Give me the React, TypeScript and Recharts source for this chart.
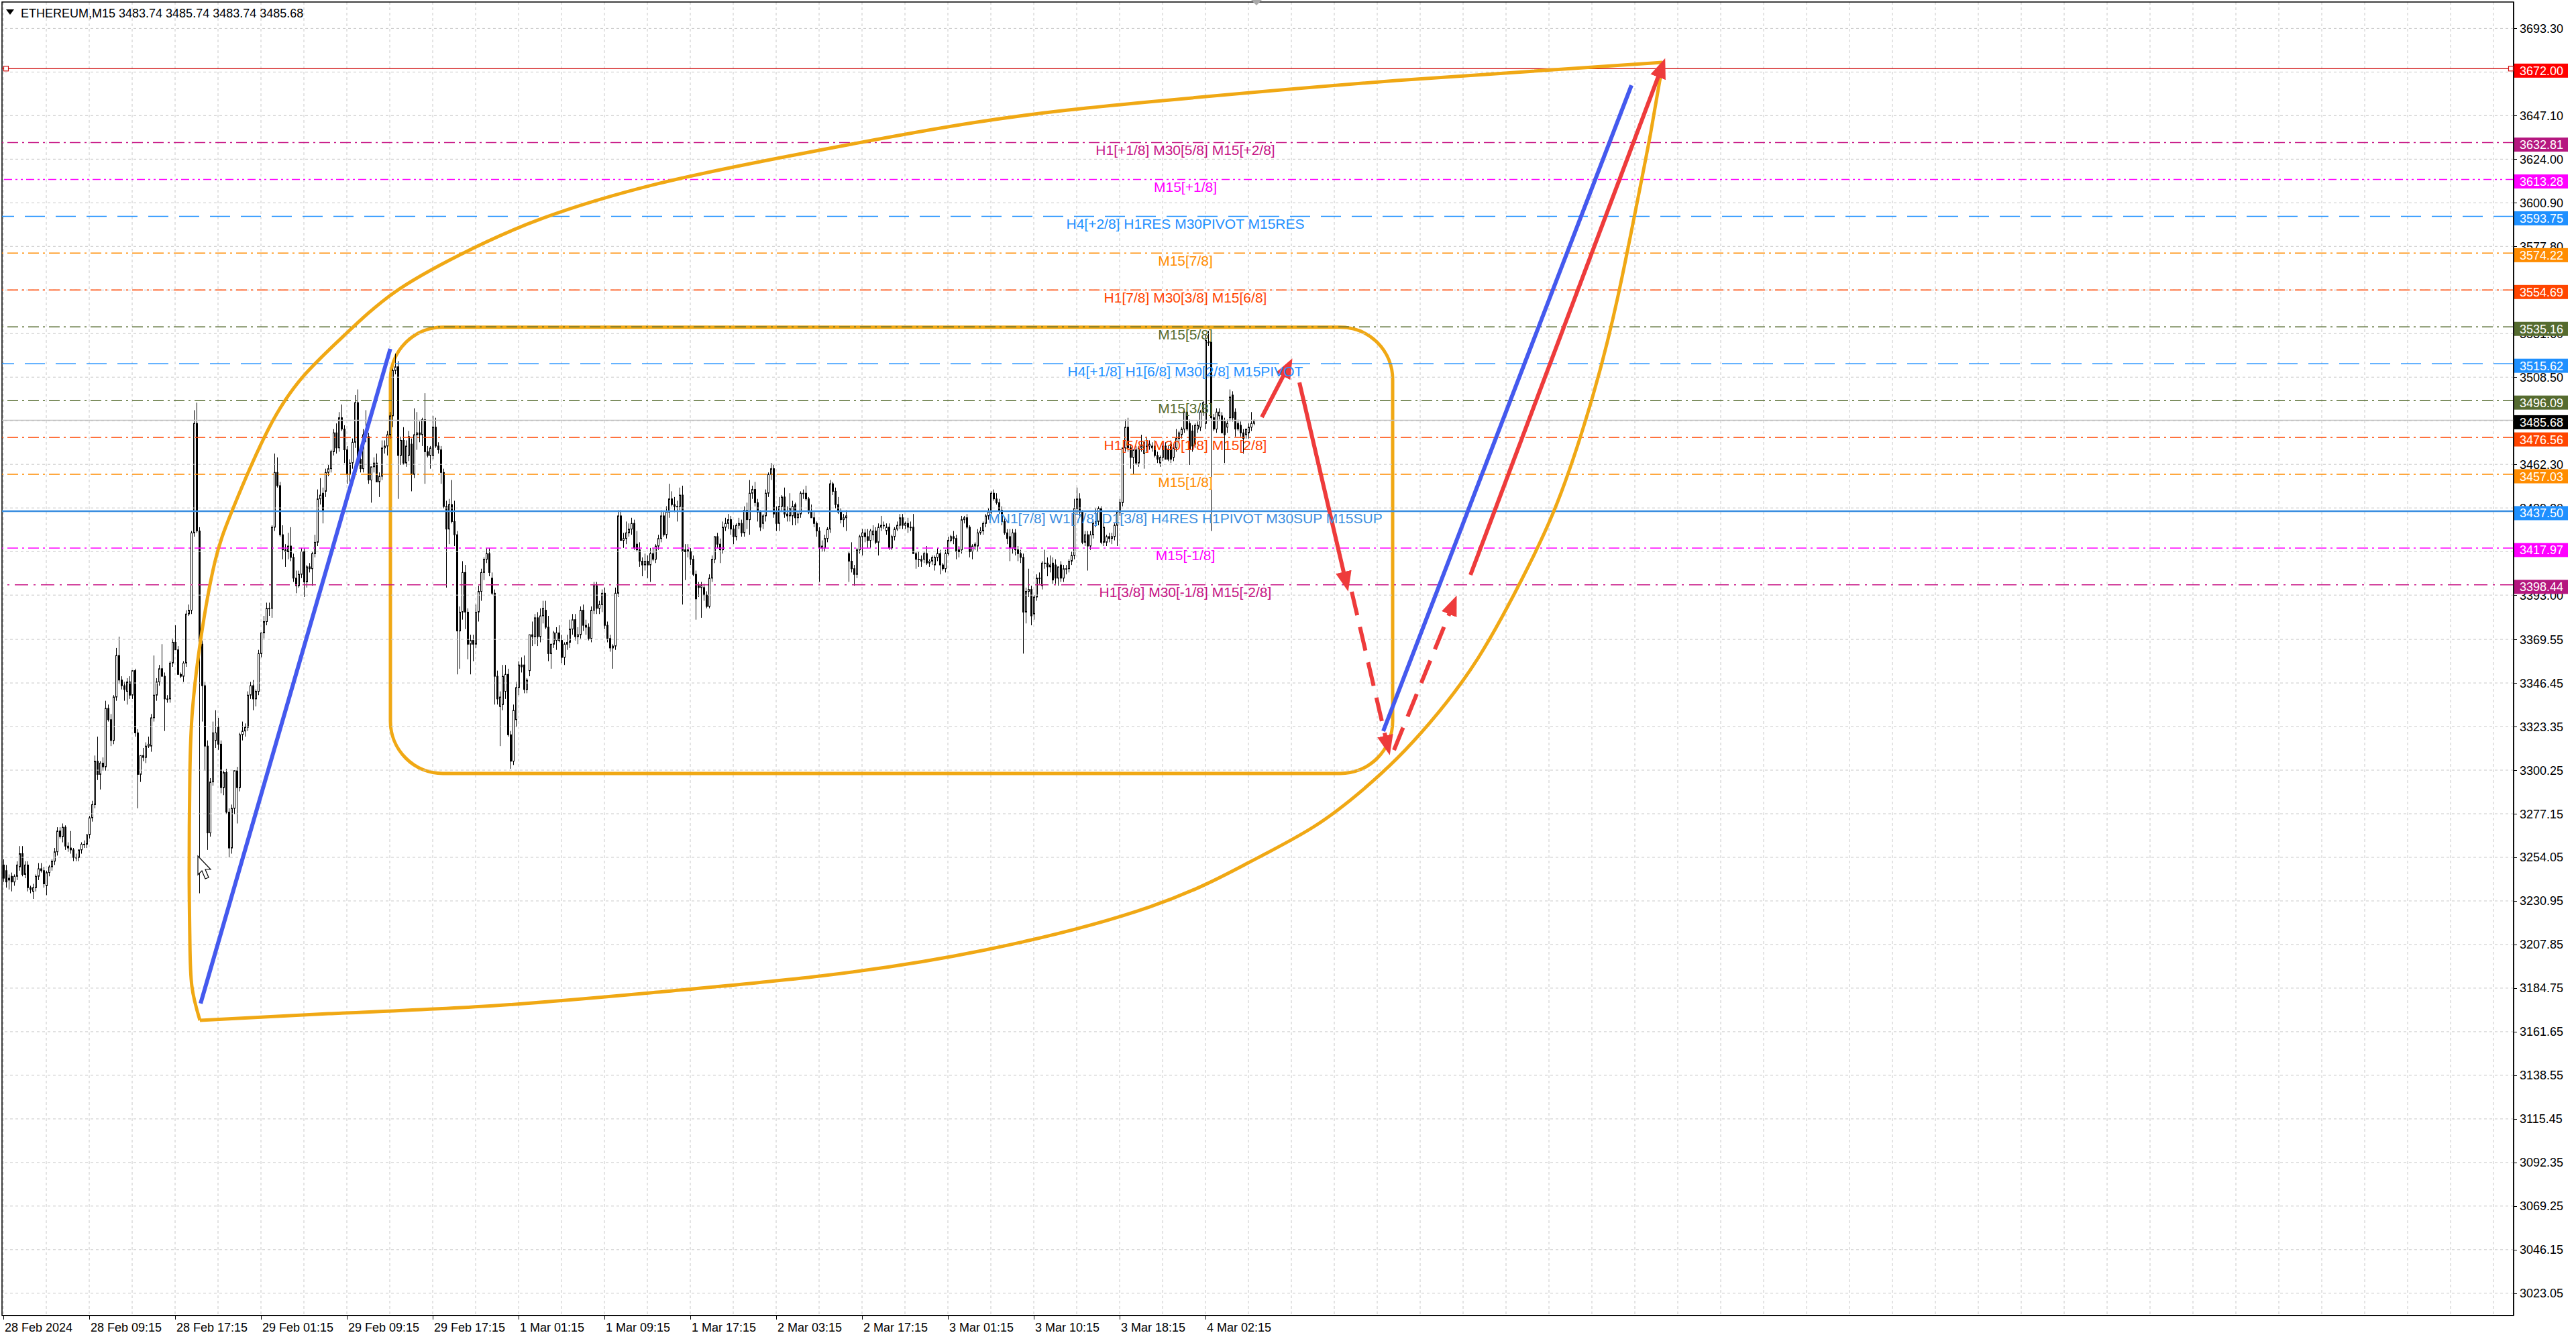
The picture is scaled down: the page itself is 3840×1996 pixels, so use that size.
import React from 'react';
import {
  ComposedChart, Bar, Line, Scatter, XAxis, YAxis, CartesianGrid,
  ReferenceLine, ReferenceArea,
} from 'recharts';

const FONT = '"Liberation Sans", Arial, sans-serif';

// ---------------- OHLC data (M15 bars, index 0..466) ----------------
const OPEN = [
  3250,3247,3243,3244,3241,3244,3249,3256,3245,3250,
  3238,3236,3238,3244,3248,3247,3239,3246,3249,3252,
  3257,3268,3265,3270,3260,3259,3258,3254,3254,3258,
  3261,3261,3266,3275,3282,3305,3298,3304,3302,3333,
  3327,3316,3339,3361,3348,3345,3342,3347,3340,3353,
  3320,3298,3308,3307,3313,3313,3328,3340,3347,3354,
  3350,3338,3338,3357,3368,3364,3351,3350,3357,3383,
  3385,3426,3484,3427,3367,3345,3313,3267,3294,3316,
  3323,3314,3291,3299,3278,3259,3280,3300,3291,3319,
  3321,3323,3340,3345,3338,3342,3362,3373,3379,3386,
  3386,3429,3458,3451,3425,3417,3416,3419,3413,3402,
  3398,3404,3416,3400,3408,3407,3415,3421,3444,
  3447,3448,3458,3460,3469,3479,3471,3487,3481,3470,
  3457,3463,3474,3495,3465,3460,3478,3477,3454,3461,
  3463,3453,3456,3471,3472,3478,3488,3512,3514,3467,
  3475,3463,3467,3473,3457,3478,3479,3478,3486,3469,
  3467,3467,3482,3472,3470,3458,3440,3428,3441,3432,
  3425,3374,3384,3405,3384,3367,3369,3367,3384,3395,
  3405,3412,3415,3402,3394,3350,3334,3335,3342,3351,
  3319,3305,3327,3344,3356,3356,3343,3353,3372,3371,
  3381,3371,3382,3385,3376,3362,3367,3369,3373,3369,
  3360,3367,3368,3375,3380,3371,3372,3385,3377,3376,
  3370,3385,3398,3386,3388,3394,3377,3370,3365,3366,
  3394,3435,3422,3423,3426,3428,3431,
  3420,3417,3411,3409,3411,3409,3415,3412,3419,3423,
  3435,3425,3437,3444,3441,3440,3440,3446,3416,3417,
  3416,3412,3404,3398,3397,3397,3393,3387,3402,3412,
  3424,3420,3417,3429,3431,3433,3428,3424,3430,3431,
  3426,3438,3433,3447,3449,3442,3437,3431,3435,3447,
  3457,3460,3437,3431,3440,3445,3436,3435,3435,3441,
  3434,3436,3447,3447,3444,3437,3434,3431,3427,3418,
  3418,3423,3428,3452,3448,3441,3437,3433,3434,3415,
  3411,3407,3404,3417,3424,3426,3424,3422,3425,3427,
  3421,3429,3430,3427,3429,3418,3424,3428,3430,3434,
  3430,3431,3429,3429,3415,3412,3411,3412,3415,3410,
  3411,3409,3413,3415,3409,3407,3415,3422,
  3424,3423,3416,3417,3433,3434,3429,3416,3419,3419,
  3426,3427,3431,3435,3437,3447,3444,3442,3438,3432,
  3426,3424,3418,3426,3417,3415,3413,3384,3395,3396,
  3383,3392,3402,3398,3410,3410,3408,3410,3409,3402,
  3409,3402,3407,3407,3411,3414,3439,3444,3437,3421,
  3425,3419,3425,3431,3432,3439,3421,3421,3424,3423,
  3424,3430,3437,3442,3471,3482,3471,3466,3470,3463,
  3471,3468,3472,3472,3471,3472,3467,3463,3466,3472,
  3470,3473,3466,3471,3476,3478,3481,3490,3484,3480,
  3473,3481,3482,3490,3484,3527,3527,3487,3481,3488,
  3488,3485,3482,3487,3499,3490,3484,3483,3479,3478,
  3479,3482,3484,
];
const HIGH = [
  3253,3250,3245,3246,3245,3252,3260,3260,3252,3252,
  3239,3240,3245,3251,3251,3249,3247,3250,3253,3259,
  3270,3270,3272,3271,3262,3268,3259,3256,3258,3262,
  3263,3266,3276,3284,3308,3318,3305,3307,3337,3335,
  3330,3340,3365,3371,3350,3347,3349,3350,3353,3354,
  3322,3308,3312,3315,3318,3330,3361,3349,3356,3367,
  3352,3340,3358,3370,3377,3366,3352,3358,3385,3388,
  3427,3491,3495,3429,3369,3347,3316,3296,3326,3332,
  3328,3316,3300,3301,3280,3282,3300,3302,3320,3326,
  3325,3342,3347,3348,3343,3364,3373,3382,3389,3389,
  3430,3468,3466,3453,3430,3420,3426,3429,3415,3406,
  3406,3418,3418,3409,3410,3416,3425,3449,3455,
  3450,3460,3462,3470,3481,3484,3490,3494,3483,3472,
  3465,3476,3499,3502,3468,3481,3491,3479,3461,3466,
  3468,3458,3475,3475,3480,3490,3513,3521,3517,3477,
  3482,3475,3480,3476,3492,3490,3485,3487,3500,3472,
  3472,3488,3487,3474,3472,3460,3443,3444,3454,3443,
  3427,3387,3411,3409,3386,3372,3372,3388,3398,3407,
  3413,3418,3418,3405,3396,3353,3342,3356,3356,3354,
  3321,3335,3347,3358,3360,3361,3349,3372,3379,3383,
  3384,3386,3390,3390,3382,3367,3374,3376,3377,3372,
  3368,3372,3380,3383,3383,3376,3387,3388,3380,3378,
  3387,3400,3400,3390,3396,3397,3379,3372,3367,3397,
  3438,3438,3426,3432,3431,3434,3433,
  3427,3421,3413,3415,3414,3418,3418,3420,3425,3438,
  3437,3440,3452,3448,3445,3443,3450,3451,3420,3420,
  3418,3414,3406,3400,3400,3399,3395,3404,3414,3424,
  3426,3423,3432,3434,3436,3435,3430,3431,3434,3433,
  3440,3442,3454,3451,3453,3444,3438,3436,3449,3458,
  3463,3462,3440,3445,3446,3450,3440,3447,3443,3442,
  3437,3448,3449,3451,3445,3441,3437,3432,3429,3422,
  3425,3429,3454,3453,3450,3445,3439,3436,3438,3416,
  3421,3409,3418,3425,3428,3428,3428,3428,3430,3429,
  3431,3435,3432,3431,3431,3425,3429,3432,3436,3436,
  3432,3434,3432,3436,3416,3416,3414,3416,3419,3412,
  3414,3414,3418,3417,3410,3417,3424,3425,
  3427,3425,3419,3435,3435,3436,3430,3420,3421,3428,
  3429,3432,3436,3439,3448,3449,3447,3444,3440,3434,
  3428,3428,3428,3428,3419,3417,3415,3397,3407,3398,
  3393,3404,3405,3411,3417,3413,3414,3413,3412,3408,
  3411,3409,3409,3412,3416,3444,3450,3447,3438,3427,
  3427,3427,3432,3439,3440,3440,3432,3425,3426,3426,
  3431,3438,3444,3471,3486,3487,3473,3470,3472,3472,
  3478,3475,3477,3475,3474,3475,3469,3467,3474,3474,
  3472,3475,3473,3481,3480,3482,3491,3491,3486,3483,
  3484,3485,3491,3496,3531,3533,3529,3489,3492,3492,
  3490,3487,3486,3502,3501,3492,3486,3485,3481,3481,
  3484,3490,3486,
];
const LOW = [
  3241,3238,3237,3236,3239,3242,3247,3244,3243,3236,
  3235,3232,3236,3242,3246,3238,3234,3244,3247,3250,
  3255,3264,3262,3258,3257,3256,3252,3252,3252,3256,
  3259,3259,3264,3273,3280,3295,3290,3300,3300,3326,
  3313,3314,3337,3346,3343,3337,3335,3338,3338,3318,
  3280,3294,3305,3304,3312,3310,3326,3337,3345,3350,
  3321,3336,3336,3355,3364,3351,3349,3347,3355,3382,
  3383,3424,3426,3235,3326,3300,3258,3265,3292,3312,
  3311,3288,3287,3277,3254,3256,3277,3272,3289,3316,
  3318,3321,3338,3332,3334,3340,3360,3370,3377,3382,
  3381,3427,3450,3424,3412,3408,3412,3411,3400,3394,
  3397,3402,3392,3397,3405,3398,3413,3419,3441,
  3431,3445,3456,3458,3467,3468,3469,3480,3463,3452,
  3452,3460,3471,3464,3458,3458,3474,3452,3442,3458,
  3453,3445,3454,3468,3467,3476,3482,3510,3444,3462,
  3462,3461,3464,3448,3455,3470,3474,3472,3452,3466,
  3460,3465,3471,3468,3452,3439,3397,3420,3431,3419,
  3351,3354,3380,3375,3359,3351,3358,3365,3379,3390,
  3401,3410,3403,3393,3335,3335,3313,3332,3338,3318,
  3301,3303,3323,3340,3352,3341,3341,3350,3366,3367,
  3366,3368,3378,3375,3358,3354,3365,3364,3368,3357,
  3356,3364,3365,3372,3369,3367,3370,3374,3372,3369,
  3368,3383,3383,3383,3384,3375,3368,3363,3354,3364,
  3392,3422,3418,3420,3424,3425,3417,
  3416,3408,3403,3406,3402,3400,3411,3410,3417,3421,
  3424,3423,3434,3440,3437,3432,3438,3388,3401,3413,
  3409,3403,3380,3392,3381,3390,3386,3386,3400,3410,
  3418,3410,3415,3427,3428,3425,3420,3422,3428,3424,
  3424,3428,3425,3444,3440,3432,3427,3428,3432,3445,
  3454,3434,3427,3427,3437,3434,3432,3432,3430,3430,
  3431,3434,3444,3443,3436,3434,3429,3424,3400,3416,
  3416,3421,3426,3446,3439,3436,3431,3429,3427,3400,
  3405,3398,3402,3415,3414,3421,3418,3418,3422,3420,
  3414,3427,3428,3425,3417,3417,3422,3427,3428,3428,
  3428,3426,3427,3415,3407,3408,3408,3410,3409,3408,
  3409,3406,3411,3404,3406,3405,3414,3421,
  3420,3412,3413,3415,3431,3428,3413,3412,3417,3416,
  3425,3425,3429,3433,3436,3443,3441,3436,3430,3425,
  3420,3411,3415,3414,3411,3410,3362,3378,3392,3377,
  3380,3390,3399,3396,3407,3403,3405,3399,3399,3398,
  3400,3400,3404,3405,3409,3412,3436,3434,3420,3419,
  3406,3417,3423,3429,3430,3420,3419,3419,3421,3420,
  3422,3419,3435,3440,3469,3469,3460,3457,3462,3461,
  3469,3460,3469,3470,3469,3466,3463,3461,3464,3465,
  3464,3463,3464,3469,3474,3476,3479,3480,3462,3469,
  3471,3479,3480,3488,3481,3525,3427,3480,3479,3486,
  3479,3463,3479,3485,3485,3477,3480,3477,3468,3476,
  3476,3480,3483,
];
const CLOSE = [
  3243,3241,3242,3241,3244,3250,3256,3245,3250,3238,
  3237,3238,3244,3248,3247,3240,3246,3249,3252,3257,
  3268,3265,3270,3260,3259,3258,3254,3254,3258,3261,
  3261,3266,3275,3282,3305,3298,3304,3302,3333,3327,
  3316,3339,3361,3348,3345,3343,3347,3340,3353,3320,
  3298,3308,3307,3313,3314,3328,3340,3347,3354,3350,
  3338,3338,3357,3368,3364,3351,3350,3357,3383,3385,
  3426,3484,3427,3367,3345,3313,3267,3294,3320,3320,
  3314,3291,3299,3278,3259,3280,3300,3291,3319,3321,
  3323,3340,3345,3338,3342,3362,3373,3379,3386,3386,
  3429,3458,3451,3425,3417,3416,3419,3413,3402,3398,
  3404,3416,3400,3408,3407,3415,3421,3444,3446,
  3438,3458,3460,3469,3479,3471,3487,3481,3470,3457,
  3463,3474,3495,3465,3460,3478,3477,3454,3461,3463,
  3453,3456,3471,3472,3478,3488,3512,3514,3467,3475,
  3463,3472,3477,3457,3478,3479,3478,3486,3469,3467,
  3471,3482,3472,3470,3458,3440,3428,3441,3432,3425,
  3374,3384,3405,3384,3367,3369,3367,3384,3395,3405,
  3412,3415,3405,3394,3350,3338,3339,3350,3351,3319,
  3305,3332,3344,3356,3355,3343,3348,3372,3371,3381,
  3371,3382,3386,3376,3362,3367,3373,3373,3369,3360,
  3367,3368,3375,3380,3371,3372,3385,3377,3376,3370,
  3385,3398,3386,3388,3394,3377,3370,3365,3366,3394,
  3435,3422,3423,3426,3428,3431,3418,
  3417,3411,3409,3411,3409,3415,3412,3419,3423,3435,
  3425,3437,3444,3441,3440,3440,3446,3416,3417,3416,
  3412,3404,3391,3397,3398,3393,3387,3402,3412,3424,
  3420,3417,3429,3431,3433,3428,3424,3430,3431,3426,
  3438,3433,3447,3449,3442,3437,3429,3435,3447,3457,
  3460,3436,3431,3440,3445,3436,3435,3439,3440,3434,
  3436,3447,3447,3444,3437,3434,3431,3427,3418,3419,
  3423,3428,3452,3448,3441,3437,3433,3434,3435,3411,
  3407,3404,3417,3424,3426,3424,3422,3427,3427,3421,
  3429,3430,3430,3429,3418,3424,3428,3430,3434,3430,
  3431,3429,3429,3415,3412,3412,3412,3415,3410,3411,
  3413,3413,3415,3409,3407,3415,3422,3424,
  3423,3416,3417,3433,3434,3429,3416,3419,3420,3426,
  3427,3431,3435,3437,3447,3444,3442,3438,3432,3426,
  3423,3418,3426,3417,3415,3413,3384,3395,3396,3382,
  3392,3402,3402,3410,3410,3408,3409,3401,3402,3408,
  3402,3407,3407,3411,3414,3439,3444,3437,3421,3425,
  3419,3425,3431,3432,3439,3421,3429,3424,3423,3424,
  3430,3437,3442,3471,3482,3471,3466,3470,3463,3471,
  3472,3474,3472,3473,3472,3467,3465,3466,3472,3465,
  3465,3465,3471,3476,3479,3481,3490,3481,3470,3472,
  3483,3483,3490,3495,3528,3527,3487,3481,3490,3490,
  3479,3478,3484,3498,3487,3481,3481,3479,3476,3481,
  3482,3484,3485.68,
];

// ---------------- axes ----------------
const TIME_LABEL_BARS = [0, 32, 64, 96, 128, 160, 192, 224, 256, 288, 320, 352, 384, 416, 448];
const TIME_LABELS = [
  '28 Feb 2024', '28 Feb 09:15', '28 Feb 17:15', '29 Feb 01:15', '29 Feb 09:15',
  '29 Feb 17:15', '1 Mar 01:15', '1 Mar 09:15', '1 Mar 17:15', '2 Mar 03:15',
  '2 Mar 17:15', '3 Mar 01:15', '3 Mar 10:15', '3 Mar 18:15', '4 Mar 02:15',
];
const PRICE_TICKS = [
  3693.3, 3670.2, 3647.1, 3624.0, 3600.9, 3577.8, 3554.7, 3531.6, 3508.5, 3485.4,
  3462.3, 3439.2, 3416.1, 3393.0, 3369.55, 3346.45, 3323.35, 3300.25, 3277.15, 3254.05,
  3230.95, 3207.85, 3184.75, 3161.65, 3138.55, 3115.45, 3092.35, 3069.25, 3046.15, 3023.05,
];
// tick labels that sit fully under a price box in the reference
const HIDDEN_TICK_LABELS = [3670.2, 3554.7, 3485.4, 3416.1];

// ---------------- Murrey levels ----------------
const LEVEL_PRICES = [3632.81, 3613.28, 3593.75, 3574.22, 3554.69, 3535.16, 3515.62, 3496.09, 3476.56, 3457.03, 3437.50, 3417.97, 3398.44];
const LEVEL_TEXTS = [
  'H1[+1/8] M30[5/8] M15[+2/8]',
  'M15[+1/8]',
  'H4[+2/8] H1RES M30PIVOT M15RES',
  'M15[7/8]',
  'H1[7/8] M30[3/8] M15[6/8]',
  'M15[5/8]',
  'H4[+1/8] H1[6/8] M30[2/8] M15PIVOT',
  'M15[3/8]',
  'H1[5/8] M30[1/8] M15[2/8]',
  'M15[1/8]',
  'MN1[7/8] W1[7/8] D1[3/8] H4RES H1PIVOT M30SUP M15SUP',
  'M15[-1/8]',
  'H1[3/8] M30[-1/8] M15[-2/8]',
];
const LEVEL_COLORS = ['#C71585', '#FF00FF', '#1E90FF', '#FF8C00', '#FF4500', '#556B2F', '#1E90FF', '#556B2F', '#FF4500', '#FF8C00', '#3A8EE0', '#FF00FF', '#C71585'];
const LEVEL_DASH = ['16 6 3 6', '12 5 3 5 3 5', '30 16', '16 6 3 6', '16 6 3 6', '16 6 3 6', '30 16', '16 6 3 6', '16 6 3 6', '16 6 3 6', '', '16 6 3 6', '20 8 3 8'];
const LEVEL_LABEL_BAR = 440.5;

const BOX_PRICES = [3672.00, 3632.81, 3613.28, 3593.75, 3574.22, 3554.69, 3535.16, 3515.62, 3496.09, 3485.68, 3476.56, 3457.03, 3437.50, 3417.97, 3398.44];
const BOX_COLORS = ['#FF0000', '#B5177F', '#FF00FF', '#1E90FF', '#FF8C00', '#FF4500', '#556B2F', '#1E90FF', '#556B2F', '#000000', '#FF4500', '#FF8C00', '#1E90FF', '#FF00FF', '#B5177F'];

const TARGET_PRICE = 3672.0;
const BID_PRICE = 3485.68;

// ---------------- drawings (bar index, price) ----------------
const UPPER_ARC_X = [73.25, 70.25, 69.5, 69.25, 69.5, 70.5, 73.75, 78.75, 85.5, 98.75, 112, 127, 145.7, 170.2, 200.8, 243.6, 292.6, 361.25, 427.3, 519.2, 618.25];
const UPPER_ARC_Y = [3167.7, 3185.8, 3210.7, 3246.2, 3297.1, 3332.6, 3371.4, 3410.1, 3438.6, 3480.9, 3509.3, 3530.6, 3553.4, 3573.4, 3592.6, 3610.9, 3625.6, 3643.3, 3654.4, 3665.7, 3675.3];
const LOWER_ARC_X = [73.25, 121.25, 182.5, 243.75, 304.75, 366, 427.25, 464, 488.5, 507, 519.25, 531.5, 549.75, 568.25, 580.5, 592.5, 601.75, 609.25, 614, 618.25];
const LOWER_ARC_Y = [3167.7, 3171.2, 3175.4, 3182.6, 3191.2, 3205.0, 3227.8, 3251.2, 3270.4, 3290.3, 3306.3, 3325.2, 3360.0, 3408.0, 3447.1, 3499.3, 3551.6, 3603.9, 3638.7, 3673.5];

const BOX_X = [144.25, 517.75];
const BOX_Y = [3298.5, 3535.0];

const BLUE1_X = [73.5, 144.2];
const BLUE1_Y = [3176.6, 3523.5];
const BLUE2_X = [514.25, 606.75];
const BLUE2_Y = [3320.9, 3663.2];

const RED1_X = [469, 479];
const RED1_Y = [3487.3, 3514.7];
const RED2_X = [483, 500.5];
const RED2_Y = [3505.7, 3399.1];
const RED3_X = [502.5, 516];
const RED3_Y = [3394.8, 3312.3];
const RED4_X = [518.25, 540.5];
const RED4_Y = [3310.9, 3388.8];
const RED5_X = [546.75, 618.25];
const RED5_Y = [3403.7, 3673.5];

const X_DOMAIN: [number, number] = [-0.5, 935.5];
const Y_DOMAIN: [number, number] = [3011.25, 3707.3];

const GRID_BARS: number[] = [];
for (let b = 0; b <= 935; b += 16) GRID_BARS.push(b);

const pts = (xs: number[], ys: number[]) => xs.map((x, i) => ({ x, y: ys[i] }));

const candles = OPEN.map((o, i) => ({ x: i, o, h: HIGH[i], l: LOW[i], c: CLOSE[i] }));

const CandleShape = (props: any) => {
  const { x, y, width, height, payload } = props;
  if (!payload) return <g />;
  const { o, c } = payload;
  const h = Math.max(payload.h, o, c);
  const l = Math.min(payload.l, o, c);
  const top0 = Math.min(y, y + height);
  const hh = Math.abs(height);
  const range = h - l || 1;
  const py = (v: number) => top0 + ((h - v) / range) * hh;
  const cx = Math.round(x + width / 2) + 0.5;
  const bTop = py(Math.max(o, c));
  const bBot = py(Math.min(o, c));
  const bull = c >= o;
  return (
    <g>
      <line x1={cx} x2={cx} y1={top0} y2={top0 + hh} stroke="#000" strokeWidth={1} />
      <rect x={cx - 1} y={bTop} width={2} height={Math.max(bBot - bTop, 0.8)} fill={bull ? '#fff' : '#000'} stroke="#000" strokeWidth={1} />
    </g>
  );
};

const XTick = (props: any) => {
  const { x, y, payload } = props;
  const idx = TIME_LABEL_BARS.indexOf(payload.value);
  if (idx < 0) return <g />;
  const tx = Math.round(x) + 0.5;
  return (
    <g>
      <line x1={tx} x2={tx} y1={y - 8} y2={y - 2} stroke="#000" strokeWidth={1} />
      <text x={x + 2} y={y + 15.5} fontSize={18} fontFamily={FONT} fill="#000" textAnchor="start">{TIME_LABELS[idx]}</text>
    </g>
  );
};

const YTick = (props: any) => {
  const { x, y, payload } = props;
  const v = payload.value;
  const bi = BOX_PRICES.indexOf(v);
  if (bi >= 0) {
    return (
      <g>
        <rect x={x - 7} y={y - 7.5} width={80} height={21} fill={BOX_COLORS[bi]} />
        <text x={x + 1} y={y + 9.5} fontSize={18} fontFamily={FONT} fill="#fff" textAnchor="start">{v.toFixed(2)}</text>
      </g>
    );
  }
  const ly = Math.round(y) + 0.5;
  return (
    <g>
      <line x1={x - 8} x2={x - 3} y1={ly} y2={ly} stroke="#000" />
      {HIDDEN_TICK_LABELS.indexOf(v) < 0 && (
        <text x={x + 1} y={y + 6.5} fontSize={18} fontFamily={FONT} fill="#000" textAnchor="start">{v.toFixed(2)}</text>
      )}
    </g>
  );
};

const LevelText = (props: any) => {
  const { cx, cy, payload } = props;
  return (
    <text x={cx} y={cy + 18.5} fontSize={21} fontFamily={FONT} fill={payload.color} textAnchor="middle">{payload.text}</text>
  );
};

const EndSquare = (props: any) => {
  const { cx, cy } = props;
  return <rect x={cx - 3.5} y={cy - 3.5} width={7} height={7} fill="#fff" stroke="#D01010" strokeWidth={1.2} />;
};

const RoundRect = (props: any) => {
  const { x, y, width, height } = props;
  return <rect x={x} y={y} width={width} height={height} rx={78} ry={78} fill="none" stroke="#F0A814" strokeWidth={5} />;
};

const levelLabelData = LEVEL_PRICES.map((p, i) => ({ x: LEVEL_LABEL_BAR, y: p, text: LEVEL_TEXTS[i], color: LEVEL_COLORS[i] }));

const RED = '#EE3B3B';
const BLUE = '#4459EE';
const ORANGE = '#F0A814';

export default function App() {
  return (
    <div style={{ position: 'absolute', left: 0, top: 0, width: 3840, height: 1996, background: '#fff', overflow: 'hidden' }}>
      <svg width={0} height={0} style={{ position: 'absolute' }}>
        <defs>
          <marker id="ahRed" markerUnits="userSpaceOnUse" markerWidth={30} markerHeight={24} refX={18} refY={12} orient="auto">
            <path d="M0,0 L30,12 L0,24 z" fill={RED} />
          </marker>
        </defs>
      </svg>
      <ComposedChart
        width={3840}
        height={1996}
        data={candles}
        margin={{ top: 3, right: 0, bottom: 0, left: 3 }}
      >
        <CartesianGrid horizontal={false} vertical stroke="#C8C8C8" strokeDasharray="4 4" />
        <XAxis
          type="number"
          dataKey="x"
          domain={X_DOMAIN}
          allowDataOverflow
          ticks={GRID_BARS}
          interval={0}
          tick={XTick}
          tickLine={false}
          axisLine={{ stroke: '#000', strokeWidth: 1.5 }}
          height={35}
        />
        <YAxis
          orientation="right"
          type="number"
          domain={Y_DOMAIN}
          allowDataOverflow
          ticks={[...PRICE_TICKS, ...BOX_PRICES]}
          interval={0}
          tick={YTick}
          tickLine={false}
          axisLine={{ stroke: '#000', strokeWidth: 1.5 }}
          width={93}
        />
        {PRICE_TICKS.map((t) => (
          <ReferenceLine key={'g' + t} y={t} stroke="#C8C8C8" strokeDasharray="4 4" />
        ))}
        {LEVEL_PRICES.map((p, i) => (
          <ReferenceLine key={'l' + p} y={p} stroke={LEVEL_COLORS[i]} strokeWidth={i === 10 ? 2.5 : 1.5} strokeDasharray={LEVEL_DASH[i] || undefined} />
        ))}
        <ReferenceLine y={BID_PRICE} stroke="#C0C0C0" strokeWidth={1.5} />
        <ReferenceLine y={TARGET_PRICE} stroke="#D01010" strokeWidth={1.2} />
        <Scatter data={levelLabelData} dataKey="y" shape={LevelText} isAnimationActive={false} />
        <Bar dataKey={(d: any) => [d.l, d.h]} barSize={3} shape={CandleShape} isAnimationActive={false} />
        <ReferenceArea x1={BOX_X[0]} x2={BOX_X[1]} y1={BOX_Y[0]} y2={BOX_Y[1]} shape={RoundRect} />
        <Line data={pts(UPPER_ARC_X, UPPER_ARC_Y)} dataKey="y" type="natural" stroke={ORANGE} strokeWidth={5} dot={false} isAnimationActive={false} />
        <Line data={pts(LOWER_ARC_X, LOWER_ARC_Y)} dataKey="y" type="natural" stroke={ORANGE} strokeWidth={5} dot={false} isAnimationActive={false} />
        <Line data={pts(BLUE1_X, BLUE1_Y)} dataKey="y" type="linear" stroke={BLUE} strokeWidth={6} dot={false} isAnimationActive={false} />
        <Line data={pts(BLUE2_X, BLUE2_Y)} dataKey="y" type="linear" stroke={BLUE} strokeWidth={6} dot={false} isAnimationActive={false} />
        <Line data={pts(RED1_X, RED1_Y)} dataKey="y" type="linear" stroke={RED} strokeWidth={6} dot={false} markerEnd="url(#ahRed)" isAnimationActive={false} />
        <Line data={pts(RED2_X, RED2_Y)} dataKey="y" type="linear" stroke={RED} strokeWidth={6} dot={false} markerEnd="url(#ahRed)" isAnimationActive={false} />
        <Line data={pts(RED3_X, RED3_Y)} dataKey="y" type="linear" stroke={RED} strokeWidth={6} strokeDasharray="36 18" dot={false} markerEnd="url(#ahRed)" isAnimationActive={false} />
        <Line data={pts(RED4_X, RED4_Y)} dataKey="y" type="linear" stroke={RED} strokeWidth={6} strokeDasharray="36 18" dot={false} markerEnd="url(#ahRed)" isAnimationActive={false} />
        <Line data={pts(RED5_X, RED5_Y)} dataKey="y" type="linear" stroke={RED} strokeWidth={6} dot={false} markerEnd="url(#ahRed)" isAnimationActive={false} />
        <Scatter data={[{ x: 1, y: TARGET_PRICE }, { x: 934.5, y: TARGET_PRICE }]} dataKey="y" shape={EndSquare} isAnimationActive={false} />
        <ReferenceArea x1={X_DOMAIN[0]} x2={X_DOMAIN[1]} y1={Y_DOMAIN[0]} y2={Y_DOMAIN[1]} fill="none" fillOpacity={0} stroke="#000" strokeWidth={1.5} />
      </ComposedChart>
      <svg width={3840} height={1996} style={{ position: 'absolute', left: 0, top: 0, pointerEvents: 'none' }}>
        <path d="M9,14 L21,14 L15,22 z" fill="#000" />
        <path d="M1865,0 L1881,0 L1873,8 z" fill="#A8A8A8" />
        <text x={31} y={26} fontSize={18} fontFamily={FONT} fill="#000">ETHEREUM,M15  3483.74 3485.74 3483.74 3485.68</text>
        <path d="M295,1276 L295,1304 L301,1298 L306,1310 L311,1308 L306,1296 L314,1296 z" fill="#fff" stroke="#000" strokeWidth={1.2} />
      </svg>
    </div>
  );
}
